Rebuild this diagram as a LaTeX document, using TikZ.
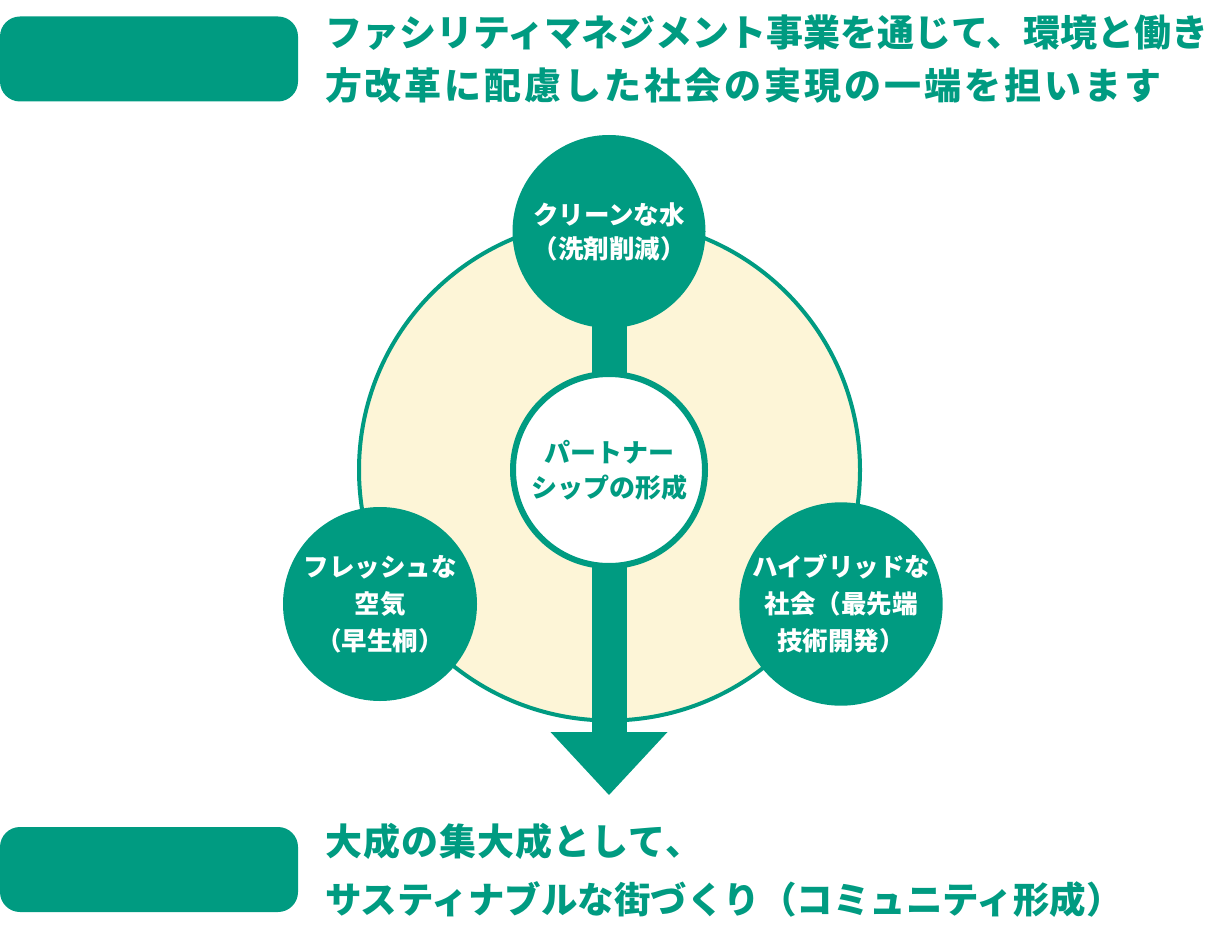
\documentclass[tikz,border=0pt]{standalone}
\usepackage{fontspec}
\newfontfamily\jp{Noto Sans CJK JP}
\definecolor{fgreen}{RGB}{0,155,129}
\definecolor{cream}{RGB}{253,245,215}
\begin{document}
\begin{tikzpicture}[x=1pt,y=-1pt,
  every node/.style={inner sep=0pt, outer sep=0pt},
  gcircle/.style={circle, fill=fgreen, minimum size=193pt, text=white, align=center,
    font=\jp\bfseries\fontsize{25.5}{37}\selectfont},
  wcircle/.style={circle, draw=fgreen, line width=6pt, fill=white, minimum size=192pt,
    text=fgreen, align=center, font=\jp\bfseries\fontsize{26}{35}\selectfont},
  bigcircle/.style={circle, draw=fgreen, line width=4pt, fill=cream, minimum size=501pt},
  labelbox/.style={rectangle, rounded corners=20pt, fill=fgreen, minimum width=298pt, minimum height=85pt},
  head/.style={anchor=base west, text=fgreen, font=\jp\bfseries\fontsize{37}{44}\selectfont},
  flow/.style={draw=fgreen, line width=35pt}]
\useasboundingbox (0,0) rectangle (1231,936);
% label boxes
\node[labelbox] (tb) at (149,59) {};
\node[labelbox] (bb) at (149,869.5) {};
% headings
\node[head] (h1) at (325,47) {ファシリティマネジメント事業を通じて、環境と働き};
\node[head] (h2) at (325,100) {\addfontfeature{LetterSpace=8}方改革に配慮した社会の実現の一端を担います};
\node[head] (h3) at (325,855) {\addfontfeature{LetterSpace=3}大成の集大成として、};
\node[head, font=\jp\bfseries\fontsize{36.5}{44}\selectfont] (h4) at (325,913) {サスティナブルな街づくり（コミュニティ形成）};
% big circle
\node[bigcircle] (big) at (609.5,470) {};
% centre nodes
\coordinate (topcc) at (609,231.5);
\coordinate (cencc) at (609,470);
\draw[flow] (topcc) -- (cencc);
\node[gcircle, font=\jp\bfseries\fontsize{25.5}{34}\selectfont] (topc) at (topcc) {クリーンな水\\（洗剤削減）};
\node[wcircle] (cen) at (cencc) {パートナー\\シップの形成};
% arrow
\coordinate (hb) at (609,732);
\coordinate (tip) at (609,795);
\draw[flow] (cen.south) -- (hb);
\fill[fgreen] ([xshift=-58.5pt]hb) -- ([xshift=58.5pt]hb) -- (tip) -- cycle;
% side circles
\node[gcircle, minimum size=194pt] (leftc) at (380,604) {フレッシュな\\空気\\（早生桐）};
\node[gcircle] (rightc) at (841,604) {ハイブリッドな\\社会（最先端\\技術開発）};
\end{tikzpicture}
\end{document}
